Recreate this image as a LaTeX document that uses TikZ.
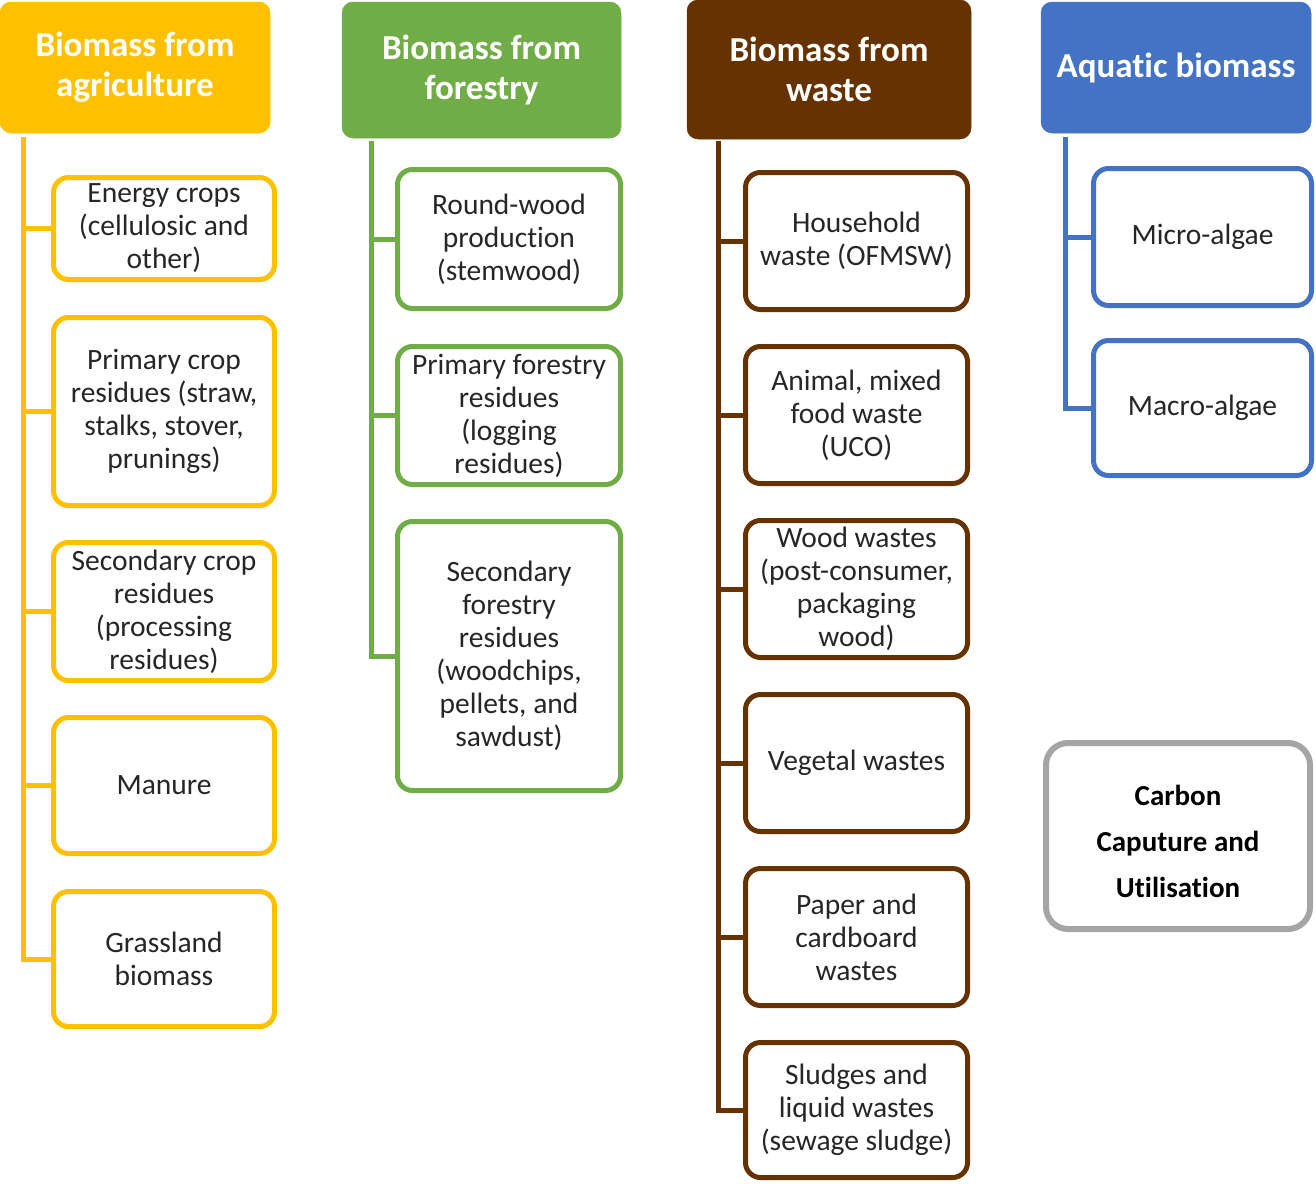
\documentclass[tikz,border=0pt]{standalone}
\usepackage{fontspec}
\setmainfont[Ligatures={NoCommon}]{Carlito}
\definecolor{agri}{HTML}{FFC000}
\definecolor{fore}{HTML}{70AD47}
\definecolor{wast}{HTML}{663300}
\definecolor{aqua}{HTML}{4472C4}
\definecolor{ccu}{HTML}{A5A5A5}
\definecolor{txt}{HTML}{262626}
\tikzset{
  head/.style={fill=#1, draw=#1, line width=0.5pt, rounded corners=11pt, inner sep=0pt,
    text=white, align=center, font=\fontsize{35}{40}\selectfont\bfseries},
  leaf/.style={draw=#1, fill=white, line width=5pt, rounded corners=15pt, inner sep=0pt,
    text=txt, align=center, font=\fontsize{29.5}{33}\selectfont},
  trunk/.style={draw=#1, line width=5pt},
}
\begin{document}
\begin{tikzpicture}[x=1pt,y=-1pt]
\useasboundingbox (0,0) rectangle (1316,1183);
% ---------- agriculture ----------
\node[head=agri, minimum width=270pt, minimum height=131pt] (h1) at (135,67.5) {Biomass from\\agriculture};
\node[leaf=agri, minimum width=221pt, minimum height=102pt] (a1) at (164,228.5) {Energy crops\\(cellulosic and\\other)};
\node[leaf=agri, minimum width=221pt, minimum height=188pt] (a2) at (164,411.5) {Primary crop\\residues (straw,\\stalks, stover,\\prunings)};
\node[leaf=agri, minimum width=221pt, minimum height=138pt] (a3) at (164,611.5) {Secondary crop\\residues\\(processing\\residues)};
\node[leaf=agri, minimum width=221pt, minimum height=136pt] (a4) at (164,785.5) {Manure};
\node[leaf=agri, minimum width=221pt, minimum height=135pt] (a5) at (164,959) {Grassland\\biomass};
\coordinate (t1) at (23,137);
\draw[trunk=agri] (t1) |- (a5.west);
\foreach \n in {a1,a2,a3,a4}{\draw[trunk=agri] (\n.west) -- (\n.west -| t1);}
% ---------- forestry ----------
\node[head=fore, minimum width=279pt, minimum height=136pt] (h2) at (481.5,70) {Biomass from\\forestry};
\node[leaf=fore, minimum width=223pt, minimum height=139pt] (f1) at (509,239) {Round-wood\\production\\(stemwood)};
\node[leaf=fore, minimum width=223pt, minimum height=138pt] (f2) at (509,415.5) {Primary forestry\\residues\\(logging\\residues)};
\node[leaf=fore, minimum width=223pt, minimum height=269pt] (f3) at (509,656) {Secondary\\forestry\\residues\\(woodchips,\\pellets, and\\sawdust)};
\coordinate (t2) at (371,141);
\draw[trunk=fore] (t2) |- (f3.west);
\foreach \n in {f1,f2}{\draw[trunk=fore] (\n.west) -- (\n.west -| t2);}
% ---------- waste ----------
\node[head=wast, minimum width=284pt, minimum height=139pt] (h3) at (829,69.5) {Biomass from\\waste};
\node[leaf=wast, minimum width=222pt, minimum height=137pt] (w1) at (856.5,241) {Household\\waste (OFMSW)};
\node[leaf=wast, minimum width=222pt, minimum height=137pt] (w2) at (856.5,415) {Animal, mixed\\food waste\\(UCO)};
\node[leaf=wast, minimum width=222pt, minimum height=137pt] (w3) at (856.5,589) {Wood wastes\\(post-consumer,\\packaging\\wood)};
\node[leaf=wast, minimum width=222pt, minimum height=137pt] (w4) at (856.5,763) {Vegetal wastes};
\node[leaf=wast, minimum width=222pt, minimum height=137pt] (w5) at (856.5,937) {Paper and\\cardboard\\wastes};
\node[leaf=wast, minimum width=222pt, minimum height=135pt] (w6) at (856.5,1110) {Sludges and\\liquid wastes\\(sewage sludge)};
\coordinate (t3) at (718,141);
\draw[trunk=wast] (t3) |- (w6.west);
\foreach \n in {w1,w2,w3,w4,w5}{\draw[trunk=wast] (\n.west) -- (\n.west -| t3);}
% ---------- aquatic ----------
\node[head=aqua, minimum width=270pt, minimum height=131pt] (h4) at (1176,67.5) {Aquatic biomass};
\node[leaf=aqua, minimum width=218pt, minimum height=137pt] (q1) at (1202.5,237) {Micro-algae};
\node[leaf=aqua, minimum width=218pt, minimum height=135pt] (q2) at (1202.5,408) {Macro-algae};
\coordinate (t4) at (1065,137);
\draw[trunk=aqua] (t4) |- (q2.west);
\draw[trunk=aqua] (q1.west) -- (q1.west -| t4);
% ---------- CCU ----------
\node[draw=ccu, fill=white, line width=6pt, rounded corners=22pt, inner sep=0pt,
  minimum width=264pt, minimum height=186pt, align=center, text=black,
  font=\fontsize{29}{46}\selectfont\bfseries] (c1) at (1178,836) {\raisebox{-6pt}[\dimexpr\height+6pt\relax]{\begin{tabular}{@{}c@{}}Carbon\\Caputure and\\Utilisation\end{tabular}}};
\end{tikzpicture}
\end{document}
